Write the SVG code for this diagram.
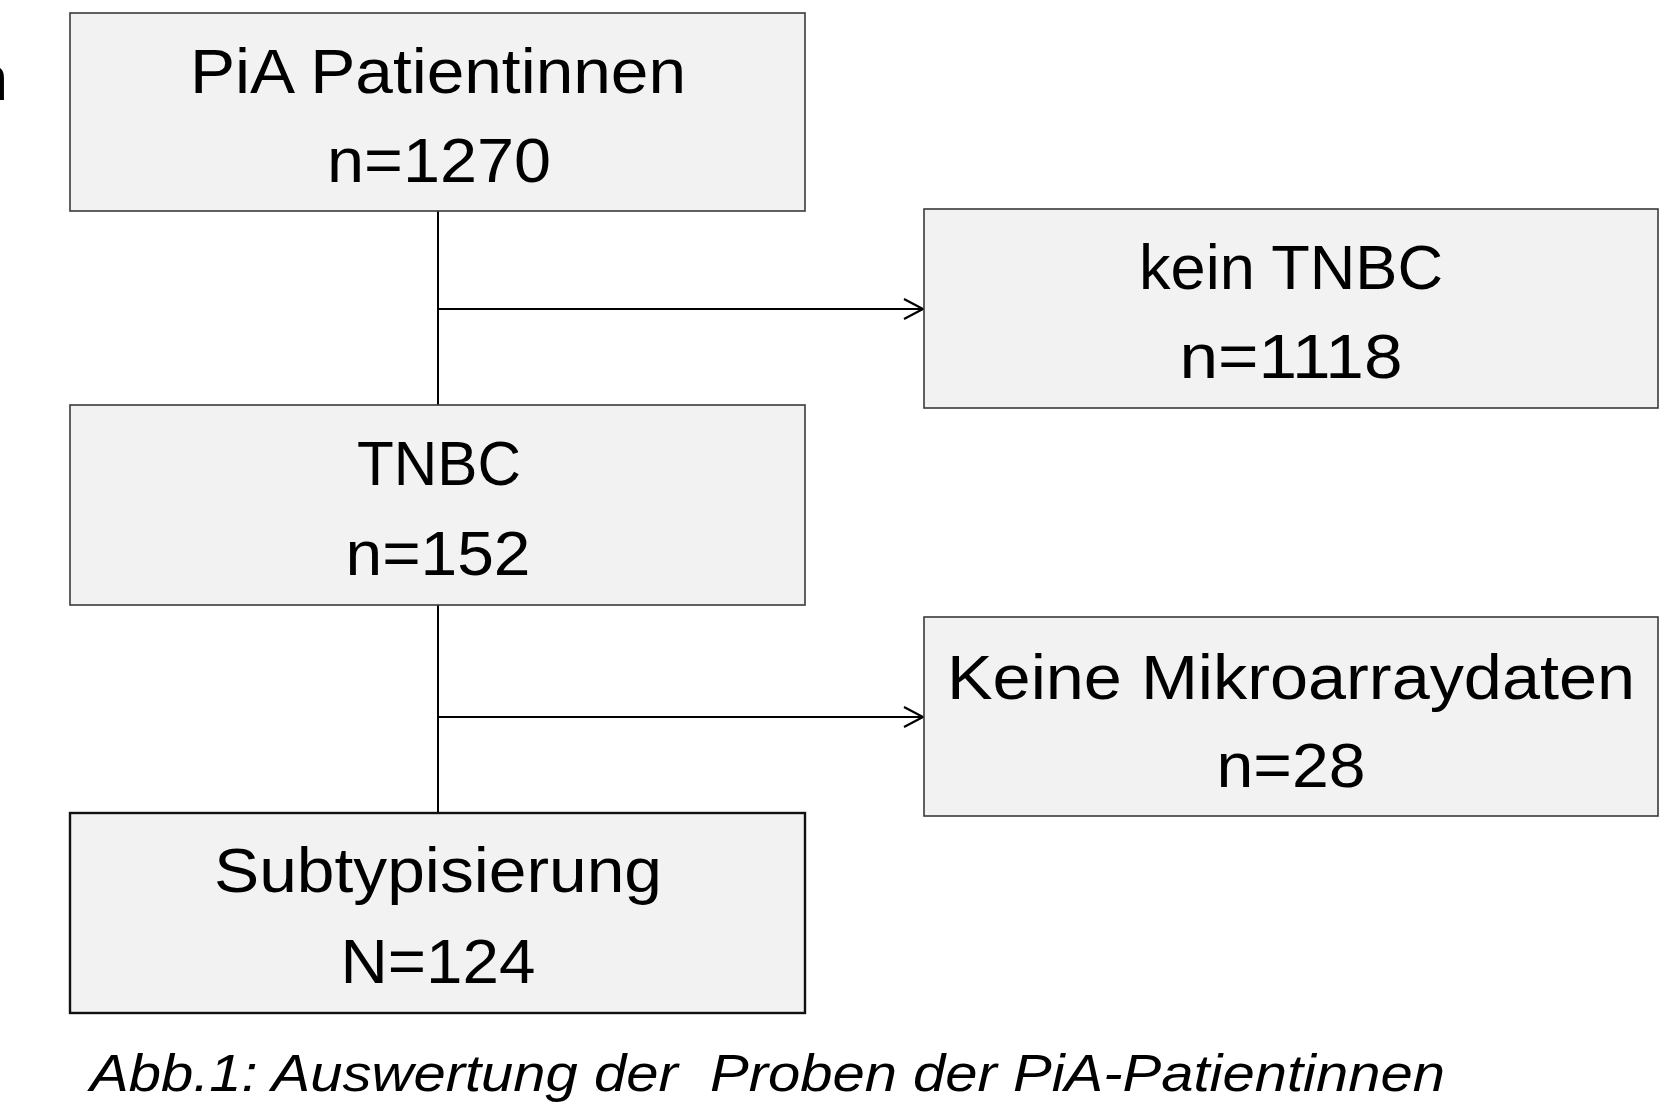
<svg xmlns="http://www.w3.org/2000/svg" width="1680" height="1105" viewBox="0 0 1680 1105">
<style>
.box{fill:#f2f2f2;stroke:#3a3a3a;stroke-width:1.6}
.t{font-family:"Liberation Sans",Arial,sans-serif;font-size:63px;fill:#000;text-anchor:middle}
.cap{font-family:"Liberation Sans",Arial,sans-serif;font-size:52px;font-style:italic;fill:#000}
.ln{stroke:#000;stroke-width:2;fill:none}
</style>
<defs>
<marker id="ah" markerWidth="24" markerHeight="24" refX="20" refY="11" orient="auto" markerUnits="userSpaceOnUse">
<path d="M1,1 L20,11 L1,21" fill="none" stroke="#000" stroke-width="2.2"/>
</marker>
</defs>
<text class="t" x="-27" y="100" style="text-anchor:start">n</text>
<g id="connectors">
<line class="ln" x1="438" y1="211" x2="438" y2="405"/>
<line class="ln" x1="438" y1="309" x2="923" y2="309" marker-end="url(#ah)"/>
<line class="ln" x1="438" y1="605" x2="438" y2="813"/>
<line class="ln" x1="438" y1="717" x2="923" y2="717" marker-end="url(#ah)"/>
</g>
<g id="node-pia">
<rect class="box" x="70" y="13" width="735" height="198"/>
<text class="t" x="438" y="93" textLength="496" lengthAdjust="spacingAndGlyphs">PiA Patientinnen</text>
<text class="t" x="439" y="182" textLength="224" lengthAdjust="spacingAndGlyphs">n=1270</text>
</g>
<g id="node-kein-tnbc">
<rect class="box" x="924" y="209" width="734" height="199"/>
<text class="t" x="1291" y="289" textLength="304" lengthAdjust="spacingAndGlyphs">kein TNBC</text>
<text class="t" x="1291" y="378" textLength="223" lengthAdjust="spacingAndGlyphs">n=1118</text>
</g>
<g id="node-tnbc">
<rect class="box" x="70" y="405" width="735" height="200"/>
<text class="t" x="439" y="485" textLength="164" lengthAdjust="spacingAndGlyphs">TNBC</text>
<text class="t" x="438" y="575" textLength="185" lengthAdjust="spacingAndGlyphs">n=152</text>
</g>
<g id="node-keine">
<rect class="box" x="924" y="617" width="734" height="199"/>
<text class="t" x="1291" y="699" textLength="688" lengthAdjust="spacingAndGlyphs">Keine Mikroarraydaten</text>
<text class="t" x="1291" y="787" textLength="149" lengthAdjust="spacingAndGlyphs">n=28</text>
</g>
<g id="node-subtyp">
<rect class="box" x="70" y="813" width="735" height="200" style="stroke:#111;stroke-width:2.4"/>
<text class="t" x="438" y="892" textLength="448" lengthAdjust="spacingAndGlyphs">Subtypisierung</text>
<text class="t" x="438" y="983" textLength="195" lengthAdjust="spacingAndGlyphs">N=124</text>
</g>
<text class="cap" x="90" y="1091" textLength="1355" lengthAdjust="spacingAndGlyphs">Abb.1: Auswertung der&#160; Proben der PiA-Patientinnen</text>
</svg>
